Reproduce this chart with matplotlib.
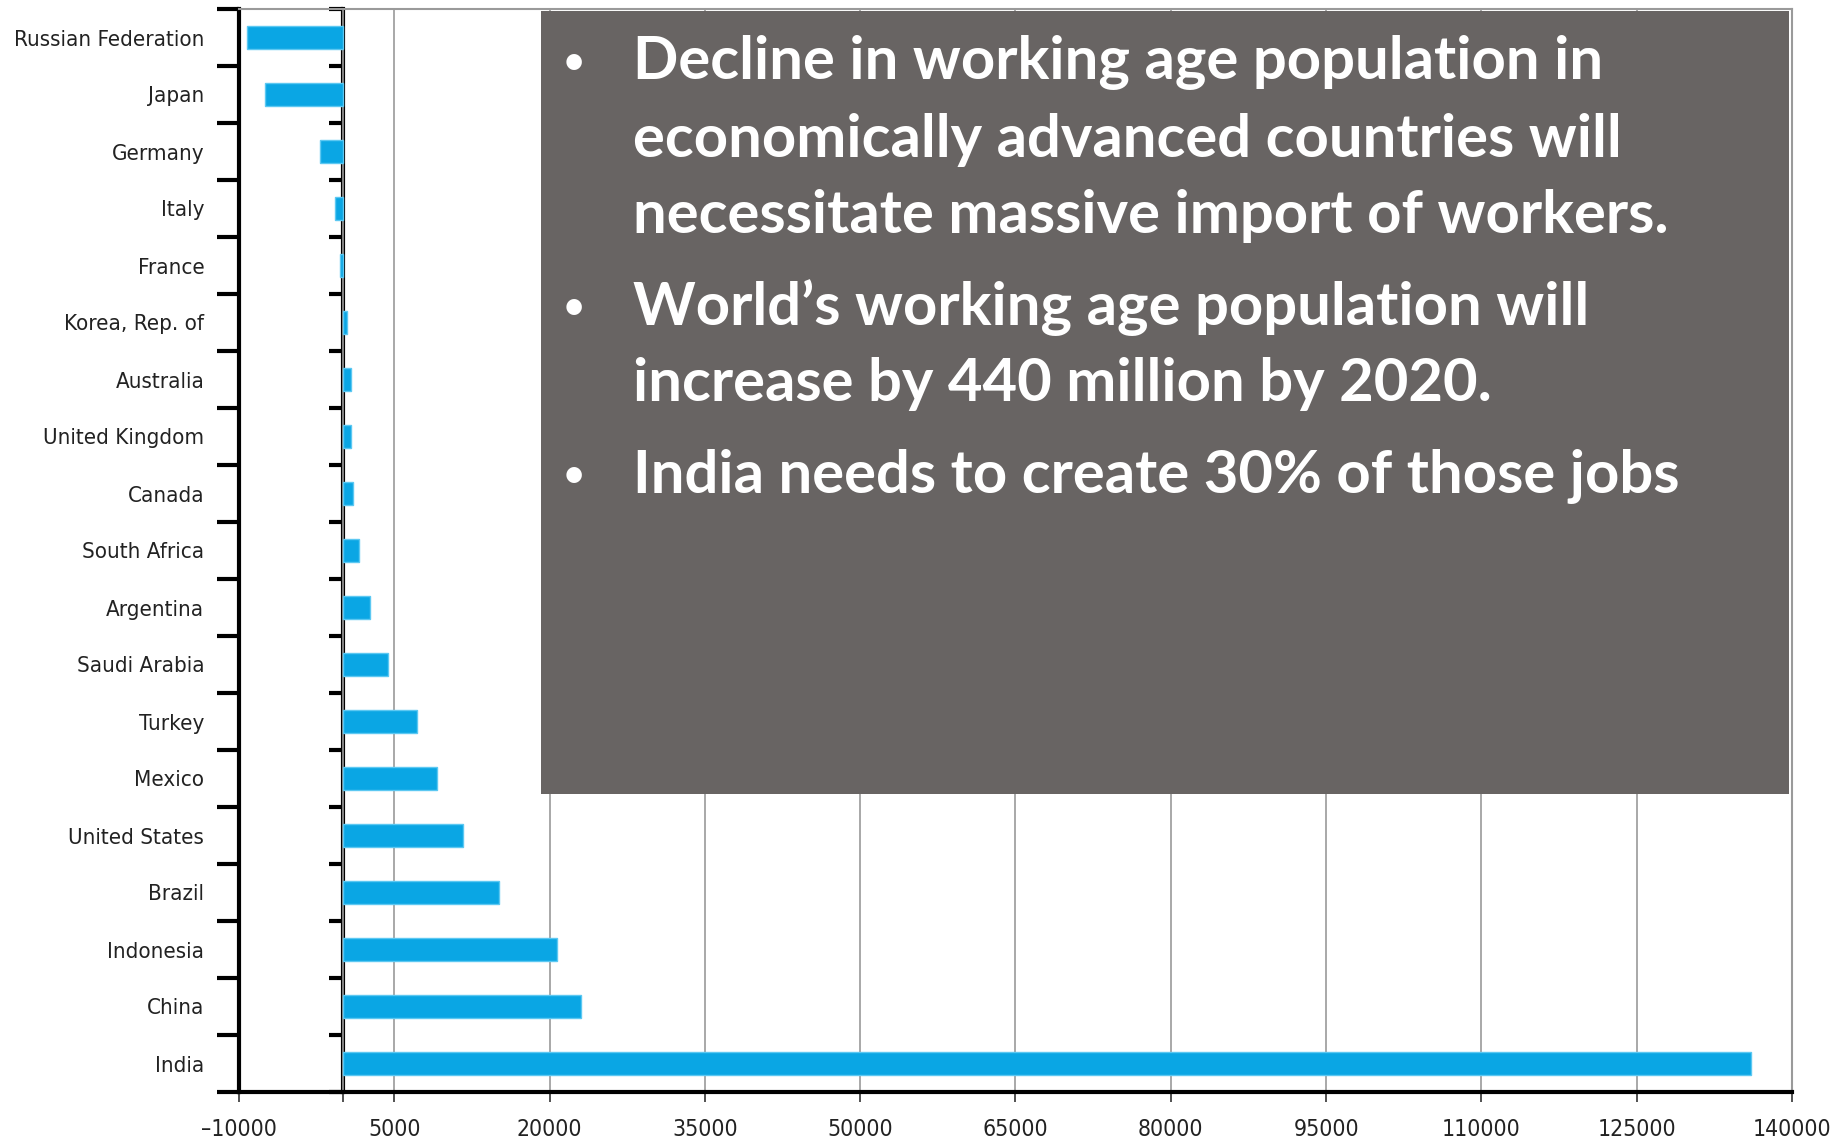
import matplotlib
matplotlib.use("Agg")
import matplotlib.pyplot as plt
from matplotlib.patches import Rectangle

# Change in working age population (thousands)
countries = ["Russian Federation", "Japan", "Germany", "Italy", "France",
             "Korea, Rep. of", "Australia", "United Kingdom", "Canada",
             "South Africa", "Argentina", "Saudi Arabia", "Turkey", "Mexico",
             "United States", "Brazil", "Indonesia", "China", "India"]
change = [-9200, -7500, -2200, -700, -200, 450, 800, 800, 1000, 1600,
          2700, 4400, 7200, 9100, 11600, 15100, 20700, 23000, 136000]

x_ticks = [-10000, 0, 5000, 20000, 35000, 50000, 65000, 80000, 95000,
           110000, 125000, 140000]
x_tick_labels = ["\u201310000", "", "5000", "20000", "35000", "50000", "65000",
                 "80000", "95000", "110000", "125000", "140000"]

bullets = [
    ["Decline in working age population in",
     "economically advanced countries will",
     "necessitate massive import of workers."],
    ["World\u2019s working age population will",
     "increase by 440 million by 2020."],
    ["India needs to create 30% of those jobs"],
]

W, H = 1845, 1144
LABEL_FONT = dict(family="DejaVu Sans", fontstretch="condensed")
BAR_COLOR = "#0AA6E4"
BOX_COLOR = "#686463"

fig = plt.figure(figsize=(W / 100, H / 100), dpi=100)
fig.patch.set_facecolor("white")
ax = fig.add_axes([239 / W, 1 - 1092 / H, (1792 - 239) / W, (1092 - 9) / H])

n = len(countries)
ypos = list(range(n))
ax.barh(ypos, change, height=0.4, color=BAR_COLOR, edgecolor="#5CC8F2",
        linewidth=1, zorder=3)

ax.set_xlim(-10000, 140000)
ax.set_ylim(n - 0.5, -0.5)

# x axis
ax.set_xticks(x_ticks)
ax.set_xticklabels(x_tick_labels, fontsize=16.5, color="#222222", **LABEL_FONT)
ax.tick_params(axis="x", direction="out", length=7, width=1.2, color="#333333", pad=12)
ax.grid(axis="x", color="#9a9a9a", linewidth=1.2, zorder=0)

# y axis: labels at centres, tick marks at boundaries
ax.set_yticks(ypos)
ax.set_yticklabels(countries, fontsize=16, color="#222222", **LABEL_FONT)
ax.tick_params(axis="y", which="major", length=0, pad=25)
ax.set_yticks([i - 0.5 for i in range(n + 1)], minor=True)
ax.tick_params(axis="y", which="minor", direction="out", length=16, width=3,
               color="black")

for side in ("left", "bottom"):
    ax.spines[side].set_color("black")
    ax.spines[side].set_linewidth(3)
for side in ("top", "right"):
    ax.spines[side].set_color("#9a9a9a")
    ax.spines[side].set_linewidth(1.5)

# the black line at zero with its own boundary ticks
zero_loc = (0 - ax.get_xlim()[0]) / (ax.get_xlim()[1] - ax.get_xlim()[0])
sec = ax.secondary_yaxis(zero_loc)
sec.set_yticks([i - 0.5 for i in range(n + 1)])
sec.set_yticklabels([])
sec.tick_params(axis="y", direction="out", length=10, width=3, color="black")
sec.spines["left"].set_linewidth(3)
sec.spines["left"].set_color("black")

# grey text box over the chart
box = Rectangle((541 / W, 1 - 794 / H), (1789 - 541) / W, (794 - 11) / H,
                transform=fig.transFigure, facecolor=BOX_COLOR,
                edgecolor="none", zorder=10)
fig.patches.append(box)

line_y = [[63, 140, 216], [308, 384], [476]]
for lines, ys in zip(bullets, line_y):
    fig.text(562 / W, 1 - ys[0] / H, "\u2022", color="white", fontsize=30,
             family="Lato", va="center", ha="left", zorder=11)
    for line, y in zip(lines, ys):
        fig.text(633 / W, 1 - y / H, line, color="white", fontsize=43,
                 fontweight="bold", family="Lato", va="center", ha="left",
                 zorder=11)

fig.savefig("out.png", dpi=100)
